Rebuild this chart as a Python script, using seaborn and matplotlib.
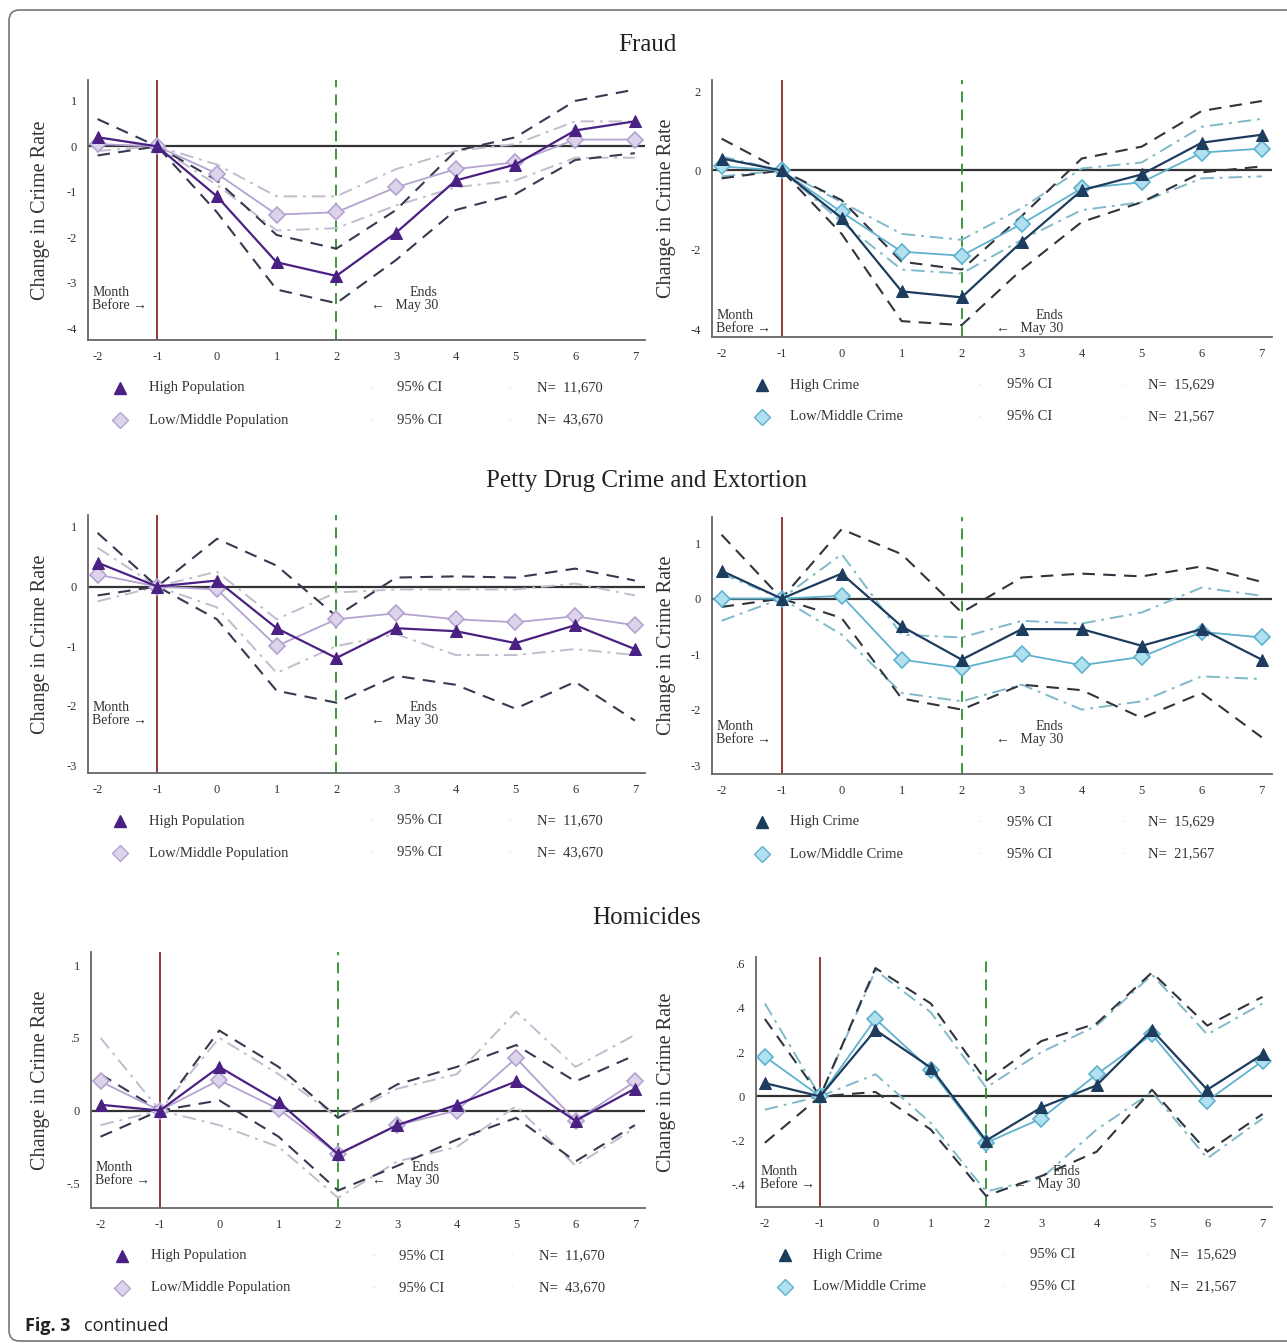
import numpy as np
import pandas as pd
import matplotlib
matplotlib.use('Agg')
import matplotlib.pyplot as plt
from matplotlib.lines import Line2D
from matplotlib.patches import FancyBboxPatch
import seaborn as sns

# ---- data ----
months = [-2, -1, 0, 1, 2, 3, 4, 5, 6, 7]
month_labels = ['-2', '-1', '0', '1', '2', '3', '4', '5', '6', '7']

fraud_pop_high = [0.2, 0, -1.1, -2.55, -2.85, -1.9, -0.75, -0.4, 0.35, 0.55]
fraud_pop_high_up = [0.6, 0, -0.75, -1.95, -2.25, -1.4, -0.1, 0.2, 1.0, 1.25]
fraud_pop_high_dn = [-0.2, 0, -1.45, -3.15, -3.45, -2.5, -1.4, -1.05, -0.3, -0.15]
fraud_pop_low = [0.05, 0, -0.6, -1.5, -1.45, -0.9, -0.5, -0.35, 0.15, 0.15]
fraud_pop_low_up = [0.2, 0, -0.4, -1.1, -1.1, -0.5, -0.1, 0.05, 0.55, 0.55]
fraud_pop_low_dn = [-0.1, 0, -0.85, -1.85, -1.8, -1.3, -0.9, -0.75, -0.25, -0.25]

fraud_crime_high = [0.3, 0, -1.2, -3.05, -3.2, -1.8, -0.5, -0.1, 0.7, 0.9]
fraud_crime_high_up = [0.8, 0, -0.75, -2.3, -2.5, -1.15, 0.3, 0.6, 1.5, 1.75]
fraud_crime_high_dn = [-0.2, 0, -1.6, -3.8, -3.9, -2.5, -1.3, -0.8, -0.05, 0.1]
fraud_crime_low = [0.1, 0, -1.05, -2.05, -2.15, -1.35, -0.45, -0.3, 0.45, 0.55]
fraud_crime_low_up = [0.35, 0, -0.8, -1.6, -1.75, -0.95, 0.05, 0.2, 1.1, 1.3]
fraud_crime_low_dn = [-0.15, 0, -1.3, -2.5, -2.6, -1.75, -1.0, -0.8, -0.2, -0.15]

drug_pop_high = [0.4, 0, 0.1, -0.7, -1.2, -0.7, -0.75, -0.95, -0.65, -1.05]
drug_pop_high_up = [0.9, 0, 0.8, 0.35, -0.5, 0.15, 0.17, 0.15, 0.3, 0.1]
drug_pop_high_dn = [-0.15, 0, -0.55, -1.75, -1.95, -1.5, -1.65, -2.05, -1.6, -2.25]
drug_pop_low = [0.2, 0, -0.05, -1.0, -0.55, -0.45, -0.55, -0.6, -0.5, -0.65]
drug_pop_low_up = [0.65, 0, 0.25, -0.55, -0.1, -0.05, -0.05, -0.05, 0.05, -0.15]
drug_pop_low_dn = [-0.25, 0, -0.35, -1.45, -1.0, -0.8, -1.15, -1.15, -1.05, -1.15]

drug_crime_high = [0.5, 0, 0.45, -0.5, -1.1, -0.55, -0.55, -0.85, -0.55, -1.1]
drug_crime_high_up = [1.15, 0, 1.25, 0.8, -0.25, 0.38, 0.45, 0.4, 0.58, 0.3]
drug_crime_high_dn = [-0.15, 0, -0.35, -1.8, -2.0, -1.55, -1.65, -2.15, -1.7, -2.5]
drug_crime_low = [0.0, 0, 0.05, -1.1, -1.25, -1.0, -1.2, -1.05, -0.6, -0.7]
drug_crime_low_up = [0.45, 0, 0.8, -0.65, -0.7, -0.4, -0.45, -0.25, 0.2, 0.05]
drug_crime_low_dn = [-0.4, 0, -0.65, -1.7, -1.85, -1.55, -2.0, -1.85, -1.4, -1.45]

hom_pop_high = [0.04, 0, 0.3, 0.06, -0.3, -0.1, 0.04, 0.2, -0.07, 0.15]
hom_pop_high_up = [0.25, 0, 0.55, 0.3, -0.05, 0.18, 0.3, 0.45, 0.2, 0.38]
hom_pop_high_dn = [-0.18, 0, 0.07, -0.18, -0.55, -0.38, -0.2, -0.05, -0.35, -0.1]
hom_pop_low = [0.2, 0, 0.21, 0.01, -0.3, -0.1, 0.0, 0.36, -0.07, 0.2]
hom_pop_low_up = [0.5, 0, 0.5, 0.25, -0.05, 0.15, 0.25, 0.68, 0.3, 0.52]
hom_pop_low_dn = [-0.1, 0, -0.1, -0.25, -0.6, -0.35, -0.25, 0.03, -0.38, -0.12]

hom_crime_high = [0.06, 0, 0.3, 0.13, -0.2, -0.05, 0.05, 0.3, 0.03, 0.19]
hom_crime_high_up = [0.35, 0, 0.58, 0.42, 0.07, 0.25, 0.33, 0.56, 0.32, 0.45]
hom_crime_high_dn = [-0.21, 0, 0.02, -0.15, -0.45, -0.36, -0.25, 0.03, -0.25, -0.08]
hom_crime_low = [0.18, 0, 0.35, 0.12, -0.21, -0.1, 0.1, 0.28, -0.02, 0.16]
hom_crime_low_up = [0.42, 0, 0.57, 0.38, 0.04, 0.2, 0.32, 0.55, 0.28, 0.42]
hom_crime_low_dn = [-0.06, 0, 0.1, -0.12, -0.43, -0.37, -0.15, 0.02, -0.28, -0.1]

pop_labels = ['High Population', 'Low/Middle Population']
crime_labels = ['High Crime', 'Low/Middle Crime']
pop_n = ['N=  11,670', 'N=  43,670']
crime_n = ['N=  15,629', 'N=  21,567']

titles = ['Fraud', 'Petty Drug Crime and Extortion', 'Homicides']

ticks_fraud_pop = [1, 0, -1, -2, -3, -4]
ticks_fraud_crime = [2, 0, -2, -4]
ticks_drug = [1, 0, -1, -2, -3]
ticks_hom_pop = [1, 0.5, 0, -0.5]
ticks_hom_pop_lab = ['1', '.5', '0', '-.5']
ticks_hom_crime = [0.6, 0.4, 0.2, 0, -0.2, -0.4]
ticks_hom_crime_lab = ['.6', '.4', '.2', '0', '-.2', '-.4']

# ---- styles ----
sns.set_style('white')
plt.rcParams['font.family'] = ['Liberation Serif', 'DejaVu Serif']

schemes = {
    'pop': dict(high='#4a2183', ci_high='#363a50', low='#b4a3d0', low_face='#ddd4eb',
                ci_low='#c2bccd', labels=pop_labels, n=pop_n),
    'crime': dict(high='#1d3c5e', ci_high='#30343d', low='#5fb2cf', low_face='#b1e0ef',
                  ci_low='#80b9c9', labels=crime_labels, n=crime_n),
}

W, H = 1287, 1343
fig = plt.figure(figsize=(W / 100, H / 100), dpi=100)


def rect(l, t, r, b):
    return [l / W, 1 - b / H, (r - l) / W, (b - t) / H]


def fx(x):
    return x / W


def fy(y):
    return 1 - y / H


def draw_panel(box, series, scheme, ylim, yticks, ytick_labels, month_y, leg_x):
    s = schemes[scheme]
    ax = fig.add_axes(rect(*box))
    high, high_up, high_dn, low, low_up, low_dn = series
    df = pd.DataFrame({'month': months, 'high': high, 'high_up': high_up, 'high_dn': high_dn,
                       'low': low, 'low_up': low_up, 'low_dn': low_dn})

    ax.axhline(0, color='#333333', lw=1.6, zorder=1)
    ax.axvline(-1, color='#8b2a2a', lw=1.3, zorder=1)
    ax.axvline(2, color='#2f8f2f', lw=1.3, linestyle=(0, (6, 4)), zorder=1)

    for col in ['low_up', 'low_dn']:
        sns.lineplot(data=df, x='month', y=col, ax=ax, color=s['ci_low'], lw=1.4,
                     linestyle=(0, (7, 3, 1.5, 3)), zorder=2)
    for col in ['high_up', 'high_dn']:
        sns.lineplot(data=df, x='month', y=col, ax=ax, color=s['ci_high'], lw=1.5,
                     linestyle=(0, (6, 4)), zorder=2)
    sns.lineplot(data=df, x='month', y='low', ax=ax, color=s['low'], lw=1.3,
                 marker='D', markersize=8.5, markerfacecolor=s['low_face'],
                 markeredgecolor=s['low'], markeredgewidth=1.2, zorder=3)
    sns.lineplot(data=df, x='month', y='high', ax=ax, color=s['high'], lw=1.6,
                 marker='^', markersize=9, markerfacecolor=s['high'],
                 markeredgecolor=s['high'], zorder=4)

    ax.set_xlim(-2.16, 7.17)
    ax.set_ylim(*ylim)
    ax.set_xticks(months)
    ax.set_xticklabels(month_labels)
    ax.set_yticks(yticks)
    ax.set_yticklabels(ytick_labels)
    ax.tick_params(length=0, labelsize=9, colors='#333333', pad=8)
    ax.set_xlabel('')
    ax.set_ylabel('')
    for side in ['top', 'right']:
        ax.spines[side].set_visible(False)
    for side in ['left', 'bottom']:
        ax.spines[side].set_color('#666666')
        ax.spines[side].set_linewidth(1.3)

    ax.text(0.008, month_y, 'Month\nBefore \u2192', transform=ax.transAxes, ha='left',
            va='center', fontsize=10, color='#333333', linespacing=1.0)
    ax.text(0.628, month_y, 'Ends\n\u2190   May 30', transform=ax.transAxes, ha='right',
            va='center', fontsize=10, color='#333333', linespacing=1.0, multialignment='right')

    # y label
    l, t, r, b = box
    lab_x = 41 if l < 300 else 666
    fig.text(fx(lab_x), fy((t + b) / 2), 'Change in Crime Rate', rotation=90,
             ha='center', va='center', fontsize=14.5, color='#333333')

    # legend block under the panel
    rows = [b + 48, b + 80]
    mx, lx, cdx, clx, ndx, nlx = leg_x
    for i, y in enumerate(rows):
        if i == 0:
            key = Line2D([fx(mx)], [fy(y)], transform=fig.transFigure, marker='^', ms=9,
                         color=s['high'], lw=0)
        else:
            key = Line2D([fx(mx)], [fy(y)], transform=fig.transFigure, marker='D', ms=8.5,
                         markerfacecolor=s['low_face'], markeredgecolor=s['low'], lw=0)
        fig.add_artist(key)
        fig.text(fx(lx), fy(y), s['labels'][i], ha='left', va='center', fontsize=10.5,
                 color='#333333')
        fig.text(fx(cdx), fy(y), '\u00b7', ha='center', va='center', fontsize=9, color='#dddddd')
        fig.text(fx(clx), fy(y), '95% CI', ha='left', va='center', fontsize=10.5, color='#333333')
        fig.text(fx(ndx), fy(y), '\u00b7', ha='center', va='center', fontsize=9, color='#dddddd')
        fig.text(fx(nlx), fy(y), s['n'][i], ha='left', va='center', fontsize=10.5, color='#333333')
    return ax


left_leg = (120, 149, 372, 397, 510, 537)
right_leg = (762, 790, 980, 1007, 1125, 1148)

draw_panel((88, 80, 645, 340),
           (fraud_pop_high, fraud_pop_high_up, fraud_pop_high_dn,
            fraud_pop_low, fraud_pop_low_up, fraud_pop_low_dn),
           'pop', (-4.26, 1.46), ticks_fraud_pop, [str(v) for v in ticks_fraud_pop],
           0.158, left_leg)
draw_panel((712, 80, 1272, 337),
           (fraud_crime_high, fraud_crime_high_up, fraud_crime_high_dn,
            fraud_crime_low, fraud_crime_low_up, fraud_crime_low_dn),
           'crime', (-4.2, 2.28), ticks_fraud_crime, [str(v) for v in ticks_fraud_crime],
           0.058, right_leg)
draw_panel((88, 515, 645, 773),
           (drug_pop_high, drug_pop_high_up, drug_pop_high_dn,
            drug_pop_low, drug_pop_low_up, drug_pop_low_dn),
           'pop', (-3.13, 1.2), ticks_drug, [str(v) for v in ticks_drug],
           0.229, left_leg)
draw_panel((712, 517, 1272, 774),
           (drug_crime_high, drug_crime_high_up, drug_crime_high_dn,
            drug_crime_low, drug_crime_low_up, drug_crime_low_dn),
           'crime', (-3.16, 1.47), ticks_drug, [str(v) for v in ticks_drug],
           0.16, right_leg)
draw_panel((91, 952, 645, 1208),
           (hom_pop_high, hom_pop_high_up, hom_pop_high_dn,
            hom_pop_low, hom_pop_low_up, hom_pop_low_dn),
           'pop', (-0.67, 1.09), ticks_hom_pop, ticks_hom_pop_lab,
           0.133, (122, 151, 374, 399, 512, 539))
draw_panel((756, 957, 1272, 1207),
           (hom_crime_high, hom_crime_high_up, hom_crime_high_dn,
            hom_crime_low, hom_crime_low_up, hom_crime_low_dn),
           'crime', (-0.5, 0.63), ticks_hom_crime, ticks_hom_crime_lab,
           0.116, (785, 813, 1005, 1030, 1148, 1170))

# section titles
for title, y in zip(titles, [45, 481, 918]):
    fig.text(fx(647), fy(y), title, ha='center', va='center', fontsize=18, color='#222222')

# frame and caption
frame = FancyBboxPatch((fx(9), fy(1341)), fx(1300 - 9), (1341 - 10) / H,
                       boxstyle='round,pad=0,rounding_size=0.008',
                       transform=fig.transFigure, fill=False, edgecolor='#777777', lw=1.2)
fig.add_artist(frame)
fig.text(fx(25), fy(1326), 'Fig. 3', ha='left', va='center', fontsize=13,
         fontweight='bold', family=['Open Sans', 'DejaVu Sans'], color='#222222')
fig.text(fx(84), fy(1326), 'continued', ha='left', va='center', fontsize=13,
         family=['Open Sans', 'DejaVu Sans'], color='#222222')

fig.savefig('out.png', dpi=100)
